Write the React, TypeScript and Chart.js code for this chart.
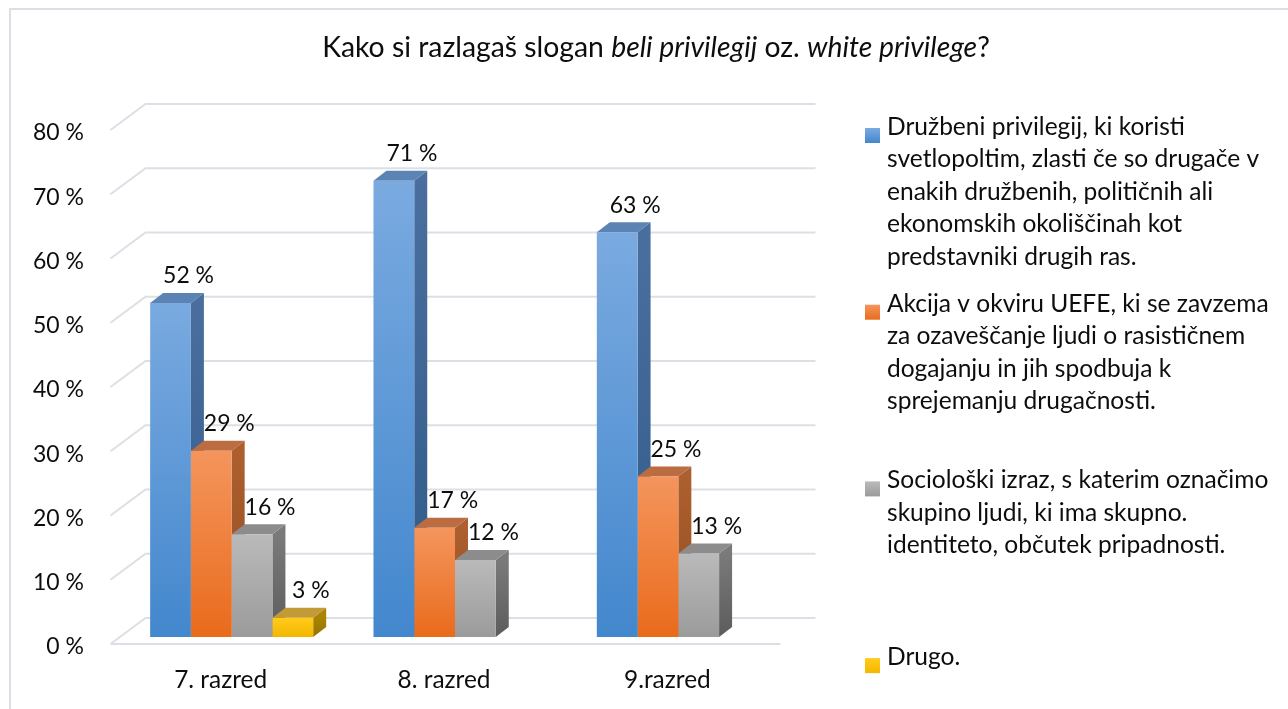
import React, { useEffect, useRef } from 'react';
import { Chart, registerables } from 'chart.js';

Chart.register(...registerables);

// ---------- data ----------
const categories = ['7. razred', '8. razred', '9.razred'];

const legendDruzbeni = [
  'Družbeni privilegij, ki koristi',
  'svetlopoltim, zlasti če so drugače v',
  'enakih družbenih, političnih ali',
  'ekonomskih okoliščinah kot',
  'predstavniki drugih ras.',
];
const legendAkcija = [
  'Akcija v okviru UEFE, ki se zavzema',
  'za ozaveščanje ljudi o rasističnem',
  'dogajanju in jih spodbuja k',
  'sprejemanju drugačnosti.',
];
const legendSocioloski = [
  'Sociološki izraz, s katerim označimo',
  'skupino ljudi, ki ima skupno.',
  'identiteto, občutek pripadnosti.',
];
const legendDrugo = ['Drugo.'];

const valuesDruzbeni = [52, 71, 63];
const valuesAkcija = [29, 17, 25];
const valuesSocioloski = [16, 12, 13];
const valuesDrugo: (number | null)[] = [3, null, null];

const yTickValues = [0, 10, 20, 30, 40, 50, 60, 70, 80];

const titleParts = [
  { text: 'Kako si razlagaš slogan ', italic: false },
  { text: 'beli privilegij', italic: true },
  { text: ' oz. ', italic: false },
  { text: 'white privilege', italic: true },
  { text: '?', italic: false },
];

// ---------- styles ----------
const FONT = 'Lato';
const TEXT = '#0d0d0d';
const GRID = '#dcdfe5';

type Pal = { front: [string, string]; side: [string, string]; top: string };
const palBlue: Pal = { front: ['#7aaae0', '#4387cd'], side: ['#4a6f9e', '#305a88'], top: '#5b83b3' };
const palOrange: Pal = { front: ['#f4955d', '#e96b1c'], side: ['#ad5f2f', '#924e1f'], top: '#bb6c40' };
const palGray: Pal = { front: ['#bababa', '#9b9b9b'], side: ['#7a7a7a', '#5c5c5c'], top: '#8c8c8c' };
const palYellow: Pal = { front: ['#ffcb1a', '#f3b700'], side: ['#a88400', '#947300'], top: '#c29a36' };

const measureCtx = document.createElement('canvas').getContext('2d')!;
function fitSize(text: string, target: number, style = 'normal') {
  measureCtx.font = `${style} 100px ${FONT}`;
  return (100 * target) / measureCtx.measureText(text).width;
}
const LEGEND_SIZE = fitSize(legendDruzbeni[0], 298);
const TICK_SIZE = fitSize('80 %', 51);
const CAT_SIZE = fitSize('7. razred', 93);
const TITLE_SIZE = (() => {
  let w = 0;
  titleParts.forEach((p) => {
    measureCtx.font = `${p.italic ? 'italic' : 'normal'} 100px ${FONT}`;
    w += measureCtx.measureText(p.text).width;
  });
  return (100 * 668) / w;
})();

const BAR_D = { dx: 13, dy: -10 };
const WALL_BACK = { dx: 25.5, dy: -19 };
const WALL_FRONT = { dx: -9.5, dy: 7 };

function vGrad(ctx: CanvasRenderingContext2D, y0: number, y1: number, c: [string, string]) {
  if (!isFinite(y0) || !isFinite(y1) || y0 === y1) return c[1];
  const g = ctx.createLinearGradient(0, y0, 0, y1);
  g.addColorStop(0, c[0]);
  g.addColorStop(1, c[1]);
  return g;
}

export default function App() {
  const ref = useRef<HTMLCanvasElement>(null);

  useEffect(() => {
    const canvas = ref.current!;
    const palettes = [palBlue, palOrange, palGray, palYellow];
    const series = [
      { lines: legendDruzbeni, data: valuesDruzbeni },
      { lines: legendAkcija, data: valuesAkcija },
      { lines: legendSocioloski, data: valuesSocioloski },
      { lines: legendDrugo, data: valuesDrugo },
    ];

    const threeD = {
      id: 'threeD',
      beforeDraw(chart: any) {
        const ctx = chart.ctx;
        ctx.save();
        ctx.fillStyle = '#ffffff';
        ctx.fillRect(0, 0, chart.width, chart.height);
        ctx.fillStyle = GRID;
        ctx.fillRect(9, 8, chart.width, 2);
        ctx.fillRect(9, 8, 2, chart.height);
        ctx.restore();
      },
      beforeDatasetsDraw(chart: any) {
        const ctx = chart.ctx;
        const ys = chart.scales.y;
        const area = chart.chartArea;
        ctx.save();
        ctx.strokeStyle = GRID;
        ctx.lineWidth = 2;
        ctx.beginPath();
        yTickValues.forEach((v) => {
          const py = ys.getPixelForValue(v);
          ctx.moveTo(area.left + WALL_FRONT.dx, py + WALL_FRONT.dy);
          ctx.lineTo(area.left + WALL_BACK.dx, py + WALL_BACK.dy);
          ctx.lineTo(area.right + WALL_BACK.dx, py + WALL_BACK.dy);
        });
        const p0 = ys.getPixelForValue(0);
        ctx.moveTo(area.left + WALL_FRONT.dx, p0 + WALL_FRONT.dy);
        ctx.lineTo(area.right + WALL_FRONT.dx, p0 + WALL_FRONT.dy);
        ctx.stroke();

        const items: any[] = [];
        chart.data.datasets.forEach((ds: any, di: number) => {
          const meta = chart.getDatasetMeta(di);
          meta.data.forEach((el: any, i: number) => {
            if (ds.data[i] == null) return;
            items.push({ el, pal: palettes[di] });
          });
        });
        items.sort((a, b) => a.el.x - b.el.x);
        items.forEach(({ el, pal }) => {
          const { x, y, base, width } = el.getProps(['x', 'y', 'base', 'width'], true);
          const l = x - width / 2;
          const r = x + width / 2;
          ctx.beginPath();
          ctx.moveTo(r, y);
          ctx.lineTo(r + BAR_D.dx, y + BAR_D.dy);
          ctx.lineTo(r + BAR_D.dx, base + BAR_D.dy);
          ctx.lineTo(r, base);
          ctx.closePath();
          ctx.fillStyle = vGrad(ctx, y, base, pal.side);
          ctx.fill();
          ctx.beginPath();
          ctx.moveTo(l, y);
          ctx.lineTo(l + BAR_D.dx, y + BAR_D.dy);
          ctx.lineTo(r + BAR_D.dx, y + BAR_D.dy);
          ctx.lineTo(r, y);
          ctx.closePath();
          ctx.fillStyle = pal.top;
          ctx.fill();
        });
        ctx.restore();
      },
      afterDatasetsDraw(chart: any) {
        const ctx = chart.ctx;
        ctx.save();
        ctx.fillStyle = TEXT;
        ctx.font = `${TICK_SIZE}px ${FONT}`;
        ctx.textAlign = 'center';
        ctx.textBaseline = 'middle';
        chart.data.datasets.forEach((ds: any, di: number) => {
          const meta = chart.getDatasetMeta(di);
          meta.data.forEach((el: any, i: number) => {
            const v = ds.data[i];
            if (v == null) return;
            ctx.fillText(`${v} %`, el.x + 18, el.y - 27);
          });
        });
        ctx.restore();
      },
      afterDraw(chart: any) {
        const ctx = chart.ctx;
        ctx.save();
        ctx.fillStyle = TEXT;
        ctx.textBaseline = 'alphabetic';
        ctx.textAlign = 'left';
        let total = 0;
        titleParts.forEach((p) => {
          ctx.font = `${p.italic ? 'italic ' : ''}${TITLE_SIZE}px ${FONT}`;
          total += ctx.measureText(p.text).width;
        });
        let tx = 656 - total / 2;
        titleParts.forEach((p) => {
          ctx.font = `${p.italic ? 'italic ' : ''}${TITLE_SIZE}px ${FONT}`;
          ctx.fillText(p.text, tx, 57);
          tx += ctx.measureText(p.text).width;
        });
        const lineH = 32.4;
        const slot = 176.7;
        ctx.font = `${LEGEND_SIZE}px ${FONT}`;
        series.forEach((s, i) => {
          const by = 135 + i * slot;
          const pal = palettes[i];
          ctx.fillStyle = vGrad(ctx, by - 7, by + 8, pal.front);
          ctx.fillRect(865, by - 7, 15, 15);
          ctx.fillStyle = TEXT;
          s.lines.forEach((ln, k) => ctx.fillText(ln, 887, by + k * lineH));
        });
        ctx.restore();
      },
    };

    const chart = new Chart(canvas, {
      type: 'bar',
      data: {
        labels: categories,
        datasets: series.map((s, i) => ({
          label: s.lines.join(' '),
          data: s.data,
          borderWidth: 0,
          barPercentage: 1,
          categoryPercentage: 0.73,
          backgroundColor: (c: any) => {
            const ys = c.chart.scales?.y;
            const v = c.raw;
            if (!ys || v == null) return palettes[i].front[1];
            return vGrad(c.chart.ctx, ys.getPixelForValue(v), ys.getPixelForValue(0), palettes[i].front);
          },
        })),
      },
      options: {
        responsive: false,
        animation: false,
        layout: { padding: { left: 0, right: 498, top: 123, bottom: 0 } },
        plugins: {
          legend: { display: false },
          title: { display: false },
          tooltip: { enabled: false },
        },
        scales: {
          x: {
            grid: { display: false, drawTicks: false },
            border: { display: false },
            ticks: {
              color: TEXT,
              font: { family: FONT, size: CAT_SIZE },
              padding: 28,
              labelOffset: -11,
              maxRotation: 0,
            },
            afterFit: (s: any) => {
              s.height = 72;
            },
          },
          y: {
            min: 0,
            max: 80,
            grid: { display: false, drawTicks: false },
            border: { display: false },
            ticks: {
              stepSize: 10,
              color: TEXT,
              font: { family: FONT, size: TICK_SIZE },
              padding: 36,
              labelOffset: 10,
              callback: (v: any) => `${v} %`,
            },
            afterFit: (s: any) => {
              s.width = 120;
            },
          },
        },
      },
      plugins: [threeD],
    } as any);

    return () => chart.destroy();
  }, []);

  return (
    <canvas
      ref={ref}
      width={1288}
      height={709}
      style={{ position: 'fixed', left: 0, top: 0, display: 'block' }}
    />
  );
}
